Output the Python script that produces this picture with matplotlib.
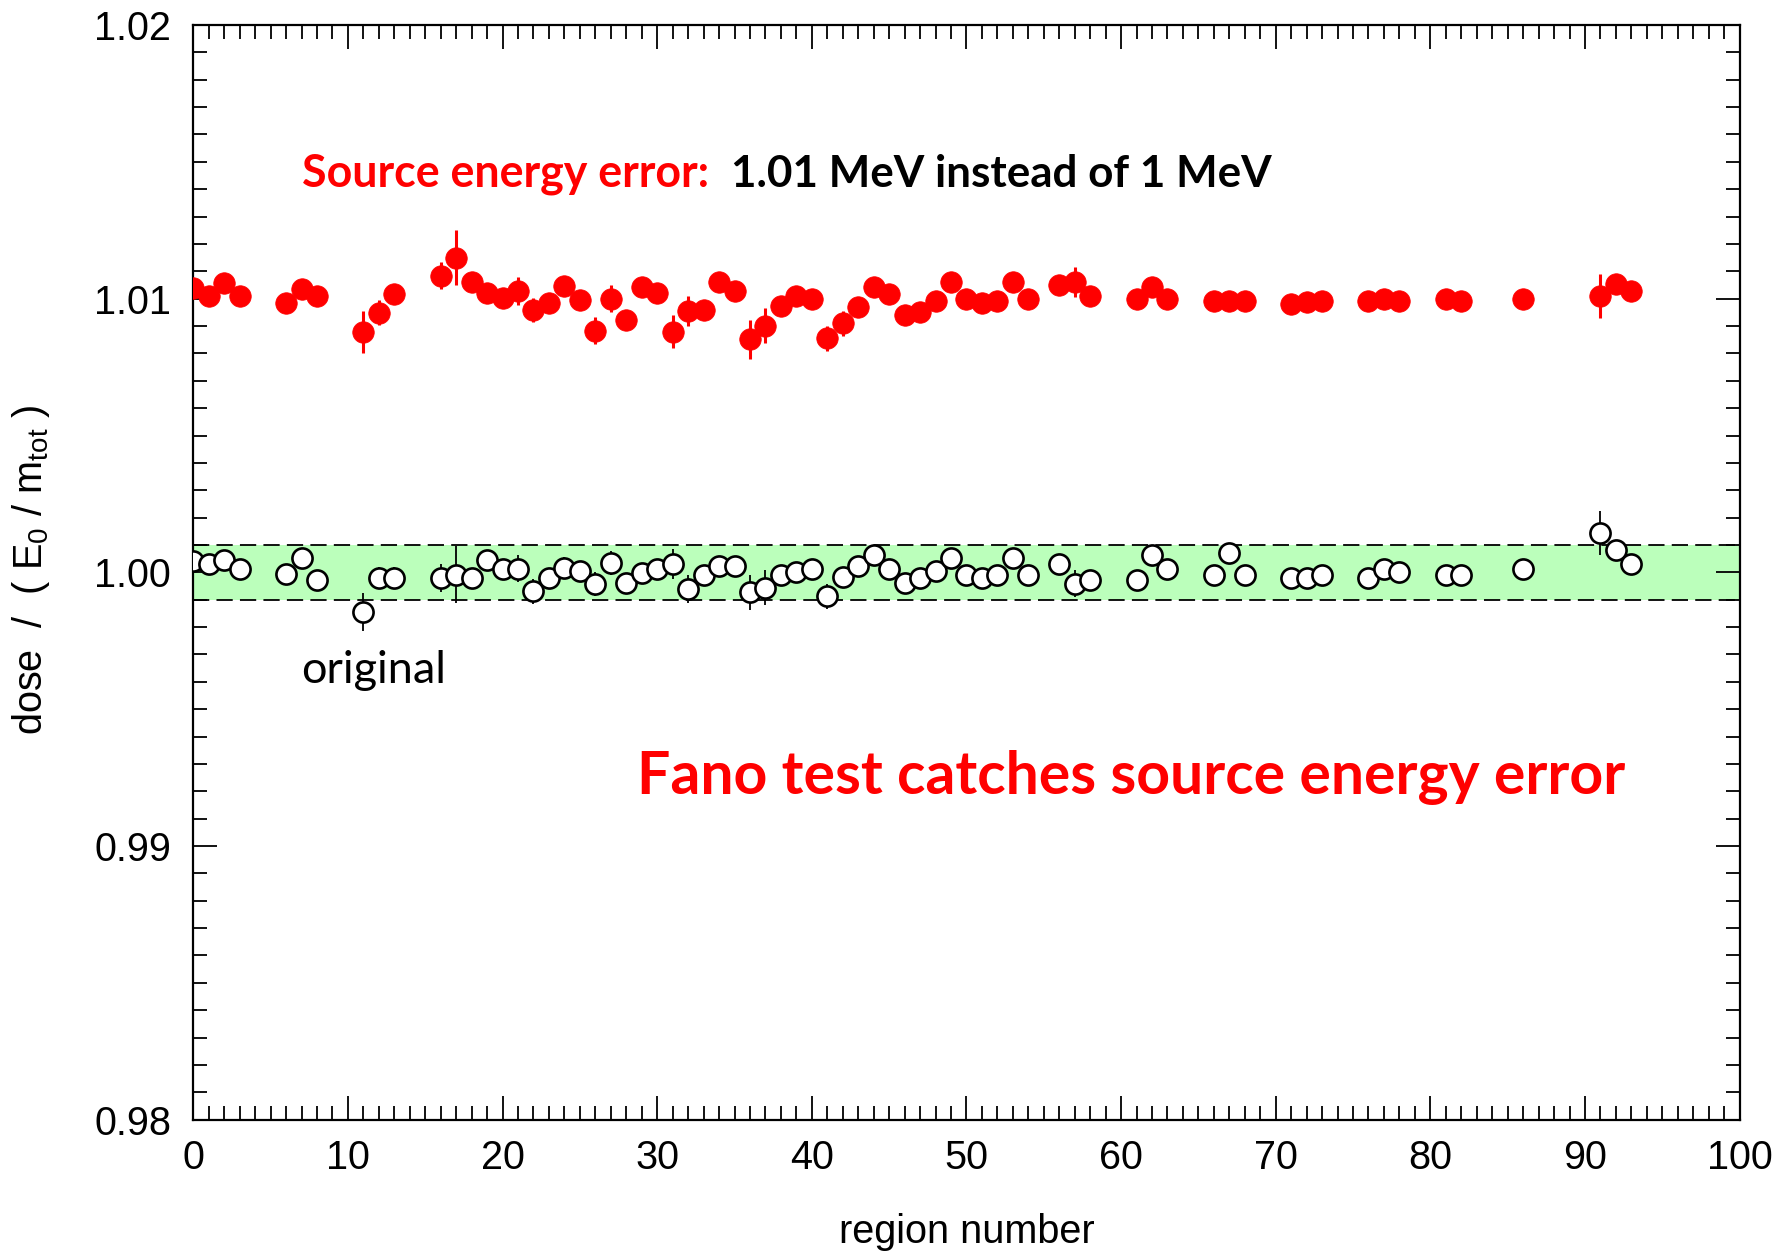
import matplotlib
matplotlib.use("Agg")
import matplotlib.pyplot as plt

# Regions that were scored in both runs
regions = [0, 1, 2, 3, 6, 7, 8, 11, 12, 13, 16, 17, 18, 19, 20, 21, 22, 23, 24,
           25, 26, 27, 28, 29, 30, 31, 32, 33, 34, 35, 36, 37, 38, 39, 40, 41,
           42, 43, 44, 45, 46, 47, 48, 49, 50, 51, 52, 53, 54, 56, 57, 58, 61,
           62, 63, 66, 67, 68, 71, 72, 73, 76, 77, 78, 81, 82, 86, 91, 92, 93]

# Source energy 1.01 MeV (wrong) -- dose / (E0/m_tot)
dose_err_src = [1.0104, 1.0101, 1.01056, 1.0101, 1.00983, 1.01034, 1.0101,
                1.00879, 1.00949, 1.01016, 1.01084, 1.0115, 1.01062, 1.01022,
                1.01001, 1.01028, 1.00959, 1.00983, 1.01046, 1.00995, 1.00883,
                1.0100, 1.00922, 1.01041, 1.01022, 1.00879, 1.00955, 1.00959,
                1.01062, 1.01029, 1.00851, 1.00901, 1.00973, 1.0101, 1.0100,
                1.00855, 1.0091, 1.00971, 1.01041, 1.01017, 1.0094, 1.00953,
                1.00992, 1.01062, 1.0100, 1.00983, 1.00992, 1.01062, 1.0100,
                1.0105, 1.01062, 1.01011, 1.0100, 1.01044, 1.0100, 1.00992,
                1.00992, 1.00992, 1.0098, 1.00989, 1.00992, 1.00992, 1.0100,
                1.00992, 1.0100, 1.00992, 1.0100, 1.01011, 1.01052, 1.01029]
sig_err_src = [0.0003, 0.0003, 0.0003, 0.0003, 0.0003, 0.0003, 0.0003,
               0.00076, 0.00045, 0.0003, 0.0005, 0.001, 0.0003, 0.0003,
               0.0003, 0.0005, 0.00045, 0.0003, 0.0003, 0.0003, 0.0005,
               0.0005, 0.0003, 0.0003, 0.0003, 0.0006, 0.00055, 0.0003,
               0.0003, 0.0003, 0.0007, 0.00064, 0.0003, 0.0003, 0.0003,
               0.00045, 0.00045, 0.0003, 0.0003, 0.0003, 0.0003, 0.0003,
               0.0003, 0.0003, 0.0003, 0.0003, 0.0003, 0.0003, 0.0003,
               0.0003, 0.00055, 0.0003, 0.0003, 0.0003, 0.0003, 0.0003,
               0.0003, 0.0003, 0.0003, 0.0003, 0.0003, 0.0003, 0.0003,
               0.0003, 0.0003, 0.0003, 0.0003, 0.0008, 0.0003, 0.0003]

# Original source (1 MeV)
dose_orig = [1.00043, 1.0003, 1.00046, 1.00012, 0.99995, 1.00052, 0.99973,
             0.99855, 0.99979, 0.99979, 0.99979, 0.99992, 0.99979, 1.00044,
             1.00012, 1.00014, 0.99931, 0.99979, 1.00016, 1.00004, 0.99957,
             1.00034, 0.99961, 0.99998, 1.00012, 1.0003, 0.99939, 0.99992,
             1.00022, 1.00022, 0.99927, 0.99943, 0.99992, 1.00001, 1.00013,
             0.99912, 0.99982, 1.00022, 1.00065, 1.00013, 0.99961, 0.99979,
             1.00004, 1.00052, 0.99992, 0.99979, 0.99992, 1.00052, 0.99992,
             1.00032, 0.99959, 0.99971, 0.99971, 1.00062, 1.00012, 0.99992,
             1.0007, 0.99992, 0.99979, 0.99979, 0.99992, 0.99979, 1.00013,
             1.00001, 0.99992, 0.99992, 1.00012, 1.00144, 1.00083, 1.0003]
sig_orig = [0.0003, 0.0003, 0.0003, 0.0003, 0.0003, 0.0003, 0.0003,
            0.0007, 0.0004, 0.0004, 0.0005, 0.00105, 0.0003, 0.0003,
            0.0003, 0.0005, 0.00045, 0.0003, 0.0004, 0.0003, 0.00045,
            0.00045, 0.0003, 0.0003, 0.0003, 0.00055, 0.0005, 0.0003,
            0.0003, 0.0003, 0.00065, 0.00064, 0.0003, 0.0003, 0.0003,
            0.00045, 0.0003, 0.0003, 0.0003, 0.0003, 0.0003, 0.0003,
            0.0003, 0.0003, 0.0003, 0.0003, 0.0003, 0.0003, 0.0003,
            0.0003, 0.0005, 0.0003, 0.0003, 0.0003, 0.0003, 0.0003,
            0.0003, 0.0003, 0.0003, 0.0003, 0.0003, 0.0003, 0.0003,
            0.0003, 0.0003, 0.0003, 0.0003, 0.0008, 0.0003, 0.0003]

band_low, band_high = 0.999, 1.001
x_ticks = [0, 10, 20, 30, 40, 50, 60, 70, 80, 90, 100]
y_ticks = [0.98, 0.99, 1.00, 1.01, 1.02]
y_tick_labels = ["0.98", "0.99", "1.00", "1.01", "1.02"]

plt.rcParams["font.family"] = ["Liberation Sans", "DejaVu Sans"]
plt.rcParams["mathtext.fontset"] = "custom"
plt.rcParams["mathtext.rm"] = "Liberation Sans"
plt.rcParams["mathtext.it"] = "Liberation Sans"

fig = plt.figure(figsize=(17.77, 12.54), dpi=100)
ax = fig.add_axes([0.10878, 0.10710, 0.87017, 0.87296])

ax.set_xlim(0, 100)
ax.set_ylim(0.98, 1.02)

# +/- 0.1 % band
ax.axhspan(band_low, band_high, color="#bbffbb", zorder=0, lw=0)
for yb in (band_low, band_high):
    ax.axhline(yb, color="black", lw=1.3, dashes=(9, 4), zorder=1)

ax.errorbar(regions, dose_orig, yerr=sig_orig, fmt="o", ms=14.5,
            mfc="white", mec="black", mew=1.9, ecolor="black",
            elinewidth=1.3, capsize=0, zorder=3)
ax.errorbar(regions, dose_err_src, yerr=sig_err_src, fmt="o", ms=15.5,
            mfc="#ff0000", mec="#ff0000", mew=0.5, ecolor="#ff0000",
            elinewidth=2.2, capsize=0, zorder=3)

ax.set_xticks(x_ticks)
ax.set_xticks(range(0, 101), minor=True)
ax.set_yticks(y_ticks)
ax.set_yticklabels(y_tick_labels)
ax.set_yticks([0.98 + 0.001 * i for i in range(41)], minor=True)
ax.tick_params(which="both", direction="in", top=True, right=True,
               width=1.3, labelsize=28.5)
ax.tick_params(which="major", length=17)
ax.tick_params(which="minor", length=10)
ax.tick_params(axis="x", pad=14)
ax.tick_params(axis="y", pad=16)
for sp in ax.spines.values():
    sp.set_linewidth(1.6)

ax.set_xlabel("region number", fontsize=28.5)
ax.xaxis.set_label_coords(0.5003, -0.1026)
ax.xaxis.label.set_va("center")
ax.text(-0.1052, 0.5026, r"dose  /  ( E$_0$ / m$_{\rm tot}$ )",
        transform=ax.transAxes, rotation=90, ha="center", va="center",
        fontsize=28.5)

calibri_like = ["Lato", "DejaVu Sans"]
ax.text(7.0, 1.01456, "Source energy error:", color="#ff0000",
        fontweight="bold", fontsize=32.2, family=calibri_like, va="center")
ax.text(34.8, 1.01456, "1.01 MeV instead of 1 MeV", color="black",
        fontweight="bold", fontsize=31.7, family=calibri_like, va="center")
ax.text(28.7, 0.99250, "Fano test catches source energy error",
        color="#ff0000", fontweight="bold", fontsize=42.4,
        family=calibri_like, va="center")
ax.text(7.0, 0.99643, "original", color="black", fontsize=32.5,
        family=calibri_like, va="center")

fig.savefig("out.png", dpi=100)
